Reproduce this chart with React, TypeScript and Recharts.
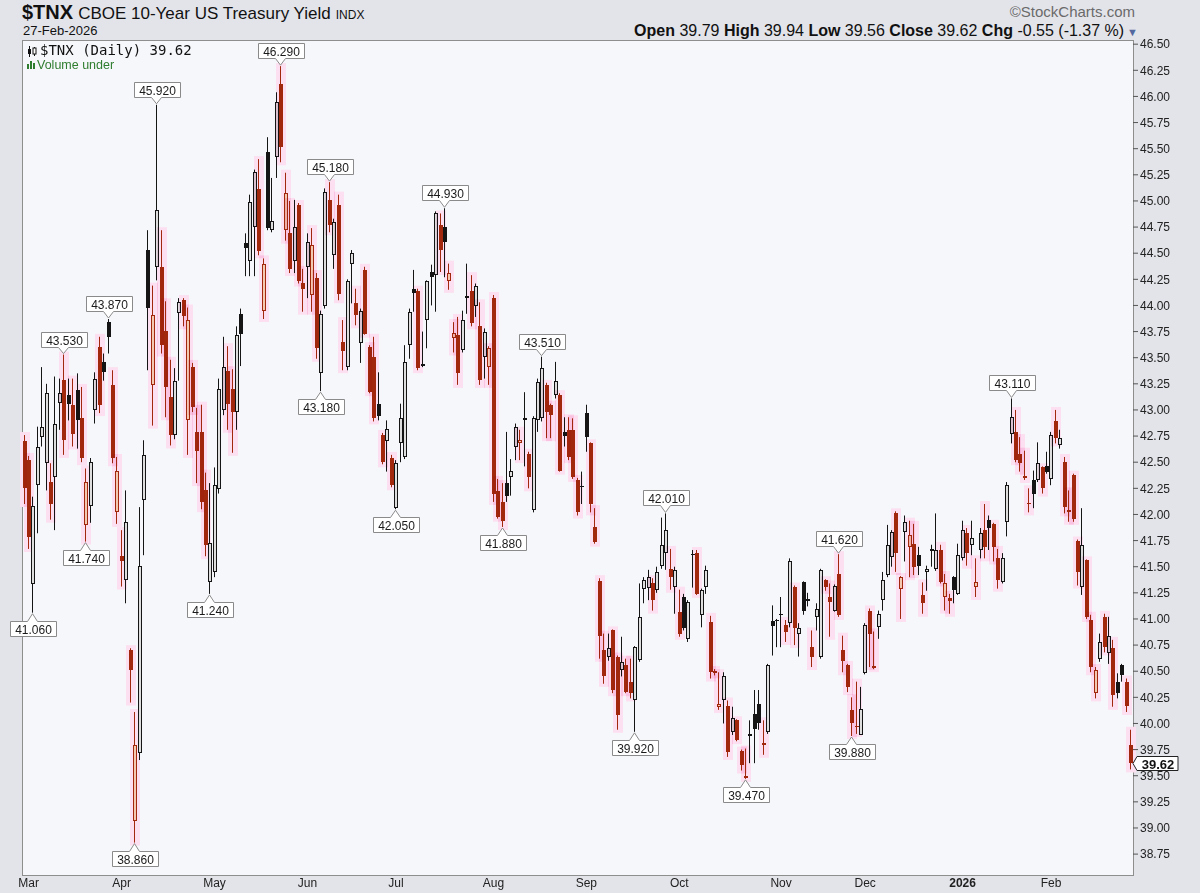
import React from 'react'
import { ComposedChart, Bar, XAxis, YAxis } from 'recharts'

// daily OHLC for $TNX, 28-Feb-2025 .. 27-Feb-2026
const opens = [
  42.70, 42.52, 41.33, 42.28, 42.74, 42.49, 42.31, 42.36, 43.07, 43.29,
  43.14, 43.05, 43.19, 42.92, 41.90, 42.08, 43.00, 43.60, 43.46, 43.84,
  43.24, 42.02, 41.60, 41.37, 40.70, 39.07, 39.72, 42.14, 44.53, 43.24,
  44.37, 44.37, 43.76, 43.12, 42.76, 43.93, 44.05, 42.90, 43.41, 42.79,
  42.79, 42.23, 41.35, 41.45, 42.24, 43.00, 43.37, 43.20, 42.98, 43.92,
  44.60, 44.43, 44.75, 45.11, 43.95, 45.47, 44.72, 45.42, 46.12, 44.72,
  44.69, 44.43, 44.96, 44.21, 44.37, 44.10, 44.26, 43.35, 43.99, 45.01,
  44.48, 44.96, 43.65, 43.41, 44.40, 44.02, 43.64, 44.34, 43.60, 43.51,
  43.06, 42.76, 42.70, 42.54, 42.06, 42.68, 42.55, 43.62, 44.16, 44.14,
  43.44, 43.86, 44.32, 44.29, 44.77, 44.75, 44.23, 43.69, 43.72, 43.57,
  44.09, 44.14, 43.99, 43.80, 43.51, 43.41, 44.07, 42.22, 42.12, 42.30,
  42.36, 42.65, 42.68, 42.92, 42.58, 42.04, 42.90, 42.92, 43.24, 43.05,
  43.14, 43.14, 42.79, 42.81, 42.81, 42.33, 42.27, 42.97, 42.68, 41.88,
  41.36, 40.70, 40.64, 40.89, 40.64, 40.51, 40.56, 40.40, 40.22, 40.61,
  41.29, 41.30, 41.34, 41.28, 41.51, 41.63, 41.48, 41.31, 41.07, 41.21,
  40.81, 41.62, 41.63, 41.04, 41.31, 40.97, 40.50, 40.16, 40.22, 40.17,
  39.92, 40.03, 39.74, 39.50, 39.90, 40.09, 40.19, 39.80, 39.92, 40.98,
  40.99, 41.05, 40.94, 40.96, 41.31, 40.86, 41.35, 41.18, 40.73, 41.02,
  40.64, 41.37, 41.21, 41.08, 41.43, 40.70, 40.56, 40.13, 39.98, 39.89,
  40.48, 41.08, 40.53, 40.92, 41.18, 41.42, 41.59, 42.01, 41.29, 41.83,
  41.69, 41.72, 41.61, 41.23, 41.45, 41.67, 41.48, 41.66, 41.21, 41.20,
  41.40, 41.24, 41.58, 41.82, 41.71, 41.31, 41.66, 41.85, 41.95, 41.91,
  41.58, 41.35, 41.93, 42.77, 42.79, 42.58, 42.37, 42.11, 42.33, 42.33,
  42.45, 42.46, 42.34, 42.89, 42.66, 42.50, 42.02, 42.38, 41.75, 41.31,
  41.56, 40.99, 40.29, 40.62, 41.02, 40.67, 40.72, 40.40, 40.56, 40.40,
  39.79,
]

const highs = [
  42.76, 42.56, 42.17, 42.84, 43.41, 43.25, 42.49, 43.32, 43.30, 43.53,
  43.30, 43.30, 43.35, 43.22, 42.44, 42.54, 43.36, 43.70, 43.54, 43.87,
  43.38, 42.55, 41.85, 42.23, 40.72, 40.11, 42.07, 42.71, 44.72, 44.19,
  45.92, 44.72, 44.04, 43.48, 43.40, 44.07, 44.07, 43.98, 43.45, 43.02,
  43.05, 42.40, 42.30, 42.45, 43.30, 43.70, 43.61, 43.39, 43.80, 43.97,
  44.69, 45.06, 45.30, 45.40, 44.45, 45.61, 45.22, 46.04, 46.29, 45.27,
  45.00, 45.01, 44.98, 44.35, 44.69, 44.74, 44.31, 43.95, 45.12, 45.18,
  44.83, 45.06, 43.86, 44.25, 44.53, 44.16, 43.97, 44.37, 43.62, 43.70,
  43.36, 42.78, 42.90, 42.57, 42.52, 43.06, 43.62, 43.97, 44.34, 44.16,
  43.75, 44.24, 44.39, 44.90, 44.88, 44.93, 44.40, 43.84, 43.89, 43.95,
  44.40, 44.29, 44.21, 44.03, 43.78, 43.61, 44.10, 42.34, 42.30, 42.79,
  42.53, 42.87, 42.81, 43.17, 42.60, 42.94, 43.30, 43.51, 43.26, 43.06,
  43.46, 43.16, 42.93, 42.93, 42.92, 42.35, 42.41, 43.05, 42.69, 42.06,
  41.39, 40.86, 40.86, 40.90, 40.65, 40.83, 40.62, 40.62, 40.74, 41.34,
  41.40, 41.47, 41.39, 41.50, 41.97, 42.01, 41.67, 41.50, 41.28, 41.24,
  41.18, 41.66, 41.66, 41.29, 41.51, 41.03, 40.52, 40.49, 40.49, 40.22,
  40.16, 40.04, 39.75, 39.76, 40.03, 40.32, 40.32, 40.03, 40.57, 41.13,
  41.00, 41.21, 40.99, 41.58, 41.32, 40.96, 41.36, 41.25, 40.89, 41.15,
  41.48, 41.38, 41.34, 41.33, 41.62, 40.84, 40.57, 40.25, 40.40, 40.35,
  40.96, 41.10, 40.88, 41.08, 41.45, 41.90, 41.85, 42.03, 41.41, 41.99,
  41.94, 41.91, 41.69, 41.35, 41.51, 41.71, 42.01, 41.71, 41.43, 41.24,
  41.41, 41.72, 41.94, 41.87, 41.94, 41.58, 41.87, 42.10, 41.99, 41.92,
  41.67, 41.63, 42.31, 43.11, 43.00, 42.74, 42.61, 42.25, 42.42, 42.69,
  42.46, 42.60, 42.79, 43.00, 42.81, 42.55, 42.23, 42.39, 41.76, 42.06,
  41.57, 41.04, 40.54, 40.86, 41.05, 41.02, 40.80, 40.48, 40.57, 40.43,
  39.94,
]

const lows = [
  42.10, 41.67, 41.06, 41.82, 42.65, 42.23, 41.95, 41.85, 42.81, 42.57,
  42.90, 42.65, 42.63, 42.50, 41.74, 41.92, 42.87, 42.97, 43.28, 43.54,
  42.49, 41.91, 41.31, 41.15, 40.20, 38.86, 39.65, 41.61, 43.38, 42.85,
  44.24, 43.54, 42.93, 42.66, 42.72, 43.28, 43.80, 42.57, 42.98, 42.30,
  42.05, 41.60, 41.24, 41.40, 42.20, 42.95, 42.81, 42.59, 42.81, 43.42,
  44.28, 44.28, 44.28, 44.48, 43.87, 44.72, 44.70, 45.22, 45.37, 44.62,
  44.31, 44.31, 44.21, 43.94, 44.07, 43.94, 43.49, 43.18, 43.97, 44.70,
  44.35, 44.05, 43.38, 43.38, 44.02, 43.81, 43.45, 43.72, 43.16, 42.89,
  42.90, 42.48, 42.41, 42.26, 42.05, 42.50, 42.53, 43.49, 43.94, 43.38,
  43.41, 43.59, 44.00, 43.94, 44.32, 44.27, 44.15, 43.55, 43.24, 43.55,
  43.92, 43.80, 43.89, 43.24, 43.30, 43.24, 42.12, 41.96, 41.88, 42.12,
  42.18, 42.52, 42.52, 42.46, 42.25, 42.02, 42.79, 42.89, 42.73, 42.73,
  43.11, 42.41, 42.65, 42.52, 42.34, 41.99, 42.10, 42.60, 42.02, 41.72,
  40.62, 40.38, 40.60, 40.29, 39.94, 40.45, 40.29, 40.24, 39.92, 40.59,
  41.15, 41.18, 41.08, 41.25, 41.48, 41.47, 41.28, 41.05, 40.83, 40.89,
  40.78, 41.30, 41.23, 40.92, 41.24, 40.43, 40.46, 40.13, 40.00, 39.68,
  39.89, 39.83, 39.55, 39.47, 39.62, 39.62, 39.94, 39.70, 39.90, 40.65,
  40.73, 40.73, 40.78, 40.92, 40.75, 40.64, 41.04, 41.12, 40.54, 40.89,
  40.62, 41.27, 40.83, 41.07, 41.02, 40.49, 40.30, 39.88, 39.90, 39.89,
  40.47, 40.54, 40.52, 40.81, 41.08, 41.40, 41.50, 41.45, 41.00, 41.55,
  41.40, 41.42, 41.42, 41.05, 41.27, 41.50, 41.46, 41.34, 41.08, 41.05,
  41.15, 41.23, 41.56, 41.51, 41.61, 41.21, 41.58, 41.58, 41.66, 41.55,
  41.29, 41.34, 41.79, 42.68, 42.50, 42.41, 42.33, 42.02, 42.06, 42.31,
  42.20, 42.39, 42.28, 42.68, 42.63, 42.01, 41.93, 41.93, 41.32, 41.23,
  41.00, 40.49, 40.24, 40.59, 40.68, 40.57, 40.16, 40.24, 40.40, 40.11,
  39.56,
]

const closes = [
  42.25, 41.78, 42.08, 42.65, 42.84, 43.16, 42.10, 42.87, 43.16, 42.71,
  43.06, 42.77, 42.90, 42.54, 42.31, 42.50, 43.30, 43.05, 43.36, 43.70,
  42.54, 42.42, 41.55, 41.93, 40.51, 39.79, 41.51, 42.57, 43.98, 43.91,
  44.91, 43.62, 43.22, 42.76, 43.28, 44.03, 43.90, 43.86, 43.03, 42.61,
  42.12, 41.71, 41.73, 42.28, 43.20, 43.41, 43.06, 42.98, 43.72, 43.73,
  44.55, 44.99, 45.28, 44.52, 44.40, 44.74, 44.81, 45.95, 45.52, 45.08,
  44.35, 44.75, 44.23, 44.16, 44.61, 44.58, 43.59, 43.92, 45.09, 44.77,
  44.80, 44.11, 43.56, 44.23, 44.50, 43.91, 43.95, 43.73, 43.17, 42.92,
  42.94, 42.50, 42.82, 42.28, 42.49, 42.92, 43.46, 43.94, 44.12, 43.40,
  43.42, 44.23, 44.27, 44.88, 44.53, 44.61, 44.31, 43.74, 43.35, 43.86,
  44.07, 43.83, 44.19, 43.29, 43.75, 43.59, 42.20, 41.98, 41.94, 42.18,
  42.42, 42.84, 42.71, 42.90, 42.36, 42.92, 43.27, 43.40, 42.98, 42.95,
  43.28, 42.42, 42.75, 42.55, 42.36, 42.02, 42.26, 42.74, 42.10, 41.74,
  40.84, 40.45, 40.72, 40.32, 40.08, 40.59, 40.30, 40.29, 40.73, 41.02,
  41.37, 41.40, 41.18, 41.45, 41.71, 41.85, 41.40, 41.47, 40.86, 40.91,
  41.16, 41.61, 41.24, 41.28, 41.47, 40.49, 40.48, 40.19, 40.45, 39.73,
  40.05, 39.84, 39.60, 39.48, 39.88, 39.95, 40.00, 39.81, 40.56, 40.93,
  40.98, 41.04, 40.88, 41.55, 40.91, 40.91, 41.08, 41.19, 40.64, 41.10,
  41.47, 41.31, 41.16, 41.32, 41.04, 40.60, 40.35, 40.00, 39.97, 40.14,
  40.94, 40.86, 40.55, 41.05, 41.37, 41.71, 41.83, 41.63, 41.40, 41.93,
  41.80, 41.50, 41.51, 41.15, 41.48, 41.65, 41.66, 41.35, 41.34, 41.17,
  41.28, 41.61, 41.85, 41.63, 41.77, 41.35, 41.82, 41.69, 41.87, 41.69,
  41.37, 41.58, 42.28, 42.93, 42.52, 42.49, 42.35, 42.11, 42.20, 42.49,
  42.25, 42.41, 42.76, 42.73, 42.73, 42.07, 42.04, 41.96, 41.45, 41.71,
  41.02, 40.54, 40.51, 40.78, 40.73, 40.84, 40.27, 40.29, 40.46, 40.17,
  39.62,
]

const priorClose = 42.95

// first trading day of each month (index into the arrays above)
const monthStarts = [1, 22, 43, 64, 84, 106, 127, 148, 171, 190, 212, 232]
const monthLabels = ['Mar', 'Apr', 'May', 'Jun', 'Jul', 'Aug', 'Sep', 'Oct', 'Nov', 'Dec', '2026', 'Feb']

const yTicks = [
  38.75, 39.0, 39.25, 39.5, 39.75, 40.0, 40.25, 40.5, 40.75, 41.0, 41.25, 41.5,
  41.75, 42.0, 42.25, 42.5, 42.75, 43.0, 43.25, 43.5, 43.75, 44.0, 44.25, 44.5,
  44.75, 45.0, 45.25, 45.5, 45.75, 46.0, 46.25, 46.5,
]

// swing points StockCharts tagged with their value
const highTags = [9, 19, 30, 58, 69, 95, 117, 145, 184, 223]
const lowTags = [2, 14, 25, 42, 67, 84, 108, 138, 163, 187]

const SANS = '"Liberation Sans", Arial, sans-serif'
const MONO = '"DejaVu Sans Mono", monospace'
const INK = '#151515'
const RED = '#a2280d'
const HOLLOW_UP = '#dedede'
const HOLLOW_DN = '#f4c9b2'
const PLOT_RIGHT = 1133

const rows = opens.map((o, i) => ({
  day: i,
  o,
  h: highs[i],
  l: lows[i],
  c: closes[i],
  pc: i === 0 ? priorClose : closes[i - 1],
  range: [lows[i], highs[i]],
  tag: highTags.includes(i) ? 'H' : lowTags.includes(i) ? 'L' : '',
  last: i === opens.length - 1,
}))

function Tag({ cx, tip, text, above }: { cx: number; tip: number; text: string; above: boolean }) {
  const w = 46
  const hh = 15
  const x0 = Math.round(cx - w / 2) + 0.5
  const x1 = x0 + w
  let d: string
  let ty: number
  if (above) {
    const yb = Math.round(tip - 8) + 0.5
    const yt = yb - hh
    d = `M${x0},${yt} H${x1} V${yb} H${cx + 5} L${cx},${tip - 1} L${cx - 5},${yb} H${x0} Z`
    ty = yt + hh / 2
  } else {
    const yt = Math.round(tip + 8) + 0.5
    const yb = yt + hh
    d = `M${x0},${yt} H${cx - 5} L${cx},${tip + 1} L${cx + 5},${yt} H${x1} V${yb} H${x0} Z`
    ty = yt + hh / 2
  }
  return (
    <g>
      <path d={d} fill="#ffffff" stroke="#8a8a8a" strokeWidth={1} />
      <text x={x0 + w / 2} y={ty + 0.5} textAnchor="middle" dominantBaseline="central" fontSize={12} fontFamily={SANS} fill="#1a1a1a">
        {text}
      </text>
    </g>
  )
}

function Candle(props: any) {
  const { x, y, width, height, payload } = props
  if (!payload) return null
  const { o, h, l, c, pc, tag, last } = payload
  const top = Math.min(y, y + height)
  const k = h > l ? Math.abs(height) / (h - l) : 0
  const py = (v: number) => top + (h - v) * k
  const cx = Math.round(x + width / 2 - 0.5)
  const up = c >= pc
  const hollow = c > o
  const col = up ? INK : RED
  const bTop = Math.round(py(Math.max(o, c)))
  const bBot = Math.round(py(Math.min(o, c)))
  const bh = Math.max(bBot - bTop, 1)
  const wx = cx + 0.5
  return (
    <g>
      {!up && (
        <rect x={cx - 4} y={py(h) - 3} width={10} height={py(l) - py(h) + 6} fill="#fcdff0" style={{ mixBlendMode: 'multiply' }} />
      )}
      <line x1={wx} x2={wx} y1={py(h)} y2={py(l)} stroke={col} strokeWidth={1} />
      {hollow ? (
        <rect x={cx - 0.5} y={bTop + 0.5} width={3} height={Math.max(bh - 1, 1)} fill={up ? HOLLOW_UP : HOLLOW_DN} stroke={col} strokeWidth={1} />
      ) : (
        <rect x={cx - 1} y={bTop} width={4} height={bh} fill={col} />
      )}
      {tag === 'H' && <Tag cx={wx} tip={py(h)} text={h.toFixed(3)} above />}
      {tag === 'L' && <Tag cx={wx} tip={py(l)} text={l.toFixed(3)} above={false} />}
      {last && (
        <g>
          <path
            d={`M${PLOT_RIGHT},${Math.round(py(c)) + 0.5} L${PLOT_RIGHT + 4},${Math.round(py(c)) - 6.5} H${PLOT_RIGHT + 45} V${Math.round(py(c)) + 7.5} H${PLOT_RIGHT + 4} Z`}
            fill="#ffffff"
            stroke="#222"
            strokeWidth={1}
          />
          <text x={PLOT_RIGHT + 25} y={py(c) + 1} textAnchor="middle" dominantBaseline="central" fontSize={13} fontWeight="bold" fontFamily={SANS} fill="#111">
            {c.toFixed(2)}
          </text>
        </g>
      )}
    </g>
  )
}

function MonthTick(props: any) {
  const { x, y, payload } = props
  const k = monthStarts.indexOf(payload.value)
  if (k < 0) return <g />
  const label = monthLabels[k]
  return (
    <text x={x} y={y} textAnchor="middle" dominantBaseline="central" fontSize={12} fontFamily={SANS} fill="#222" fontWeight={label === '2026' ? 'bold' : 'normal'}>
      {label}
    </text>
  )
}

export default function App() {
  return (
    <div style={{ position: 'relative', width: 1200, height: 893, background: '#e3e4ea', overflow: 'hidden' }}>
      <style>{'body{margin:0}'}</style>

      <div style={{ position: 'absolute', left: 22, top: 1, fontFamily: SANS, color: '#111', whiteSpace: 'nowrap' }}>
        <span style={{ fontWeight: 'bold', fontSize: 20 }}>$TNX</span>
        <span style={{ fontSize: 17, marginLeft: 5 }}>CBOE 10-Year US Treasury Yield</span>
        <span style={{ fontSize: 12, marginLeft: 5 }}>INDX</span>
      </div>
      <div style={{ position: 'absolute', left: 23, top: 23, fontFamily: SANS, fontSize: 13, color: '#111' }}>27-Feb-2026</div>
      <div style={{ position: 'absolute', right: 65, top: 3, fontFamily: SANS, fontSize: 15, color: '#6a6a6a' }}>©StockCharts.com</div>
      <div style={{ position: 'absolute', right: 62, top: 22, fontFamily: SANS, fontSize: 16, color: '#111', whiteSpace: 'nowrap' }}>
        <b>Open</b> 39.79 <b>High</b> 39.94 <b>Low</b> 39.56 <b>Close</b> 39.62 <b>Chg</b> -0.55 (-1.37 %)
        <span style={{ color: '#5468a0', fontSize: 11, marginLeft: 3 }}>▼</span>
      </div>

      <div style={{ position: 'absolute', left: 22, top: 40, width: 1112, height: 836, boxSizing: 'border-box', background: '#f6f7fb', border: '1px solid #8e8e8e' }} />

      <div style={{ position: 'absolute', left: 0, top: 0 }}>
        <ComposedChart width={1200} height={893} data={rows} margin={{ top: 40, right: 0, bottom: 0, left: 22 }}>
          <XAxis dataKey="day" type="category" interval={0} tick={<MonthTick />} tickLine={false} axisLine={false} height={18} />
          <YAxis
            orientation="right"
            type="number"
            domain={[38.55, 46.54]}
            ticks={yTicks}
            allowDataOverflow
            width={67}
            axisLine={false}
            tickSize={5}
            tickLine={{ stroke: '#555' }}
            tick={{ fontSize: 12, fill: '#222', fontFamily: SANS }}
            tickFormatter={(v: number) => v.toFixed(2)}
          />
          <Bar dataKey="range" barSize={4} isAnimationActive={false} shape={(p: any) => <Candle {...p} />} />
        </ComposedChart>
      </div>

      <div style={{ position: 'absolute', left: 27, top: 42, fontFamily: MONO, fontSize: 14, color: '#111', whiteSpace: 'nowrap' }}>
        <svg width={10} height={11} style={{ marginRight: 3, verticalAlign: 'middle' }}>
          <line x1={2.5} x2={2.5} y1={0} y2={11} stroke="#111" />
          <rect x={1} y={3} width={3} height={5} fill="#111" />
          <line x1={7.5} x2={7.5} y1={1} y2={10} stroke="#111" />
          <rect x={6} y={2} width={3} height={6} fill="#fff" stroke="#111" />
        </svg>
        $TNX (Daily) 39.62
      </div>
      <div style={{ position: 'absolute', left: 27, top: 58, fontFamily: SANS, fontSize: 12.5, color: '#2f7d2f', whiteSpace: 'nowrap' }}>
        <svg width={8} height={9} style={{ marginRight: 2, verticalAlign: 'baseline' }}>
          <rect x={0} y={4} width={2} height={5} fill="#2f7d2f" />
          <rect x={3} y={1} width={2} height={8} fill="#2f7d2f" />
          <rect x={6} y={3} width={2} height={6} fill="#2f7d2f" />
        </svg>
        Volume under
      </div>
    </div>
  )
}
